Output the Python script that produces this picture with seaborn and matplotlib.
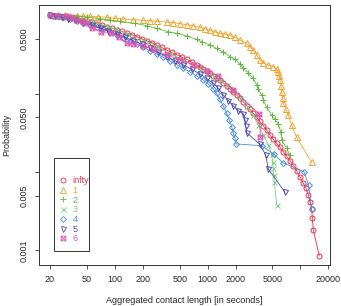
import matplotlib
matplotlib.use("Agg")
import matplotlib.pyplot as plt
import seaborn as sns
from matplotlib.path import Path
from matplotlib.lines import Line2D
from matplotlib.patches import Rectangle

# CCDF of aggregated contact length, one curve per series
len_infty = [20, 21.7, 23.6, 25.6, 27.8, 30.2, 34.2, 38.8, 43.9, 49.7, 56.3, 63.7, 72.1, 81.6, 92.4,
             104.6, 118.4, 134.1, 151.9, 171.8, 194.6, 220.2, 249.3, 282.2, 319.6, 361.7, 409.7, 463.6,
             525.2, 594.2, 673, 761.6, 827, 899, 976, 1060, 1152, 1251, 1359, 1476, 1604, 1742, 1892,
             2055, 2233, 2425, 2634, 2862, 3109, 3377, 3668, 3985, 4328, 4701, 5107, 5547, 6026, 6545,
             7110, 7723, 8389, 9113, 9899, 10752, 11500, 12180, 12687, 13240, 13460, 13782, 16010]
prob_infty = [1.0, 0.995, 0.99, 0.983, 0.964, 0.945, 0.927, 0.900, 0.874, 0.849, 0.816, 0.784, 0.754,
              0.718, 0.691, 0.658, 0.627, 0.597, 0.568, 0.536, 0.505, 0.476, 0.449, 0.419, 0.391, 0.362,
              0.338, 0.315, 0.294, 0.275, 0.254, 0.235, 0.222, 0.207, 0.195, 0.182, 0.170, 0.159, 0.148,
              0.137, 0.1256, 0.116, 0.106, 0.0964, 0.0874, 0.0785, 0.0705, 0.0632, 0.0562, 0.050, 0.0444,
              0.0391, 0.0344, 0.0297, 0.0262, 0.0233, 0.0207, 0.0182, 0.0160, 0.0140, 0.0121, 0.0104,
              0.00874, 0.00718, 0.0062, 0.0051, 0.00419, 0.00335, 0.00257, 0.00182, 0.00085]

len_1 = [29.0, 32.8, 38.8, 45.7, 54.0, 66.4, 81.6, 100.4, 123.4, 158.2, 202.7, 239.2, 282.2, 361.7, 426.8,
         503.6, 594.2, 701.1, 827.3, 937, 1060, 1201, 1359, 1540, 1742, 1973, 2233, 2634, 2862, 3109,
         3377, 3668, 3985, 4514, 5107, 5547, 5781, 5933, 6026, 6183, 6284, 6444, 6545, 6940, 7413, 8054,
         9113, 13240]
prob_1 = [1.0, 0.995, 0.99, 0.985, 0.98, 0.964, 0.945, 0.918, 0.900, 0.883, 0.866, 0.857, 0.840, 0.824,
          0.808, 0.784, 0.762, 0.733, 0.705, 0.678, 0.645, 0.614, 0.591, 0.579, 0.562, 0.525, 0.486, 0.440,
          0.399, 0.362, 0.312, 0.270, 0.249, 0.233, 0.222, 0.207, 0.191, 0.1685, 0.1498, 0.1256, 0.106,
          0.0891, 0.0755, 0.0632, 0.0536, 0.0399, 0.0278, 0.0133]

len_2 = [24.6, 30.2, 38.8, 49.7, 69.2, 88.7, 113.6, 164.9, 220.2, 282.2, 377.2, 463.6, 594.2, 761.6, 862.9,
         1060, 1251, 1476, 1742, 1973, 2233, 2425, 2748, 3109, 3377, 3523, 3820, 3985, 4328, 4903, 5325,
         5781, 6132, 6284, 7110, 7723]
prob_2 = [1.0, 0.99, 0.983, 0.954, 0.909, 0.874, 0.840, 0.793, 0.740, 0.684, 0.620, 0.591, 0.546, 0.495,
          0.462, 0.419, 0.380, 0.338, 0.2975, 0.275, 0.240, 0.211, 0.186, 0.157, 0.129, 0.1139, 0.0964,
          0.0832, 0.0671, 0.0536, 0.0471, 0.0411, 0.0328, 0.0257, 0.0201, 0.0165]

len_3 = [20, 23.6, 30.2, 42.1, 58.6, 81.6, 100.4, 134.1, 199.5, 282.2, 392.9, 547, 827.3, 1152, 1359,
         1604, 1892, 2233, 2634, 3109, 3523, 3985, 4514, 4903, 5027, 5107, 5192, 5236, 5547]
prob_3 = [1.0, 0.99, 0.954, 0.891, 0.816, 0.733, 0.664, 0.591, 0.486, 0.407, 0.328, 0.270, 0.209, 0.170,
          0.1498, 0.128, 0.1073, 0.0891, 0.0698, 0.0530, 0.0399, 0.0297, 0.0222, 0.0170, 0.0136, 0.0112,
          0.00918, 0.00747, 0.0038]

len_4 = [20, 21.7, 24.6, 27.8, 32.8, 38.8, 45.7, 54, 63.7, 75.2, 88.7, 104.6, 123.4, 145.6, 171.8, 202.7,
         239.2, 282.2, 333, 392.9, 463.6, 547, 645.4, 761.6, 898.6, 1018, 1152, 1251, 1359, 1476, 1604,
         1715, 1817, 1892, 1973, 2023, 3820, 5192, 6444, 10940, 12285, 13240]
prob_4 = [1.0, 0.99, 0.974, 0.945, 0.900, 0.857, 0.808, 0.762, 0.711, 0.664, 0.614, 0.568, 0.520, 0.476,
          0.432, 0.391, 0.355, 0.322, 0.292, 0.262, 0.235, 0.211, 0.1895, 0.1685, 0.1498, 0.1332, 0.116,
          0.1013, 0.0849, 0.0698, 0.0562, 0.0462, 0.0380, 0.0318, 0.027, 0.0229, 0.0217, 0.0169, 0.0132,
          0.0101, 0.00678, 0.00335]

len_5 = [20, 22.6, 26.7, 31.5, 37.2, 45.7, 56.3, 69.2, 85.1, 104.6, 128.7, 158.2, 194.6, 239.2, 294.3,
         361.7, 445.1, 547, 673, 827.3, 976, 1152, 1305, 1476, 1673, 1892, 2144, 2425, 2529, 2572, 2634,
         3668, 4225, 4514, 6826]
prob_5 = [1.0, 0.99, 0.954, 0.909, 0.866, 0.808, 0.747, 0.691, 0.633, 0.579, 0.525, 0.476, 0.427, 0.380,
          0.338, 0.2975, 0.2643, 0.233, 0.205, 0.1787, 0.157, 0.1358, 0.1173, 0.0964, 0.0817, 0.0698,
          0.0608, 0.0552, 0.0462, 0.0388, 0.0318, 0.0226, 0.0165, 0.01094, 0.00552]

len_6 = [20, 24.6, 29.5, 34.2, 37.8, 43.9, 48.5, 57.2, 70.3, 90.2, 110.9, 136.3, 158.2, 202.7, 259.8,
         361.7, 503.6, 701.1, 976, 1305, 1892, 3611, 3700]
prob_6 = [1.0, 0.995, 0.99, 0.945, 0.874, 0.840, 0.793, 0.684, 0.620, 0.602, 0.536, 0.440, 0.432, 0.407,
          0.369, 0.312, 0.270, 0.233, 0.197, 0.1685, 0.1117, 0.0552, 0.0283]

labels = ["infty", "1", "2", "3", "4", "5", "6"]
x_ticks = [20, 50, 100, 200, 500, 1000, 2000, 5000, 10000, 20000]
x_ticklabels = ["20", "50", "100", "200", "500", "1000", "2000", "5000", "", "20000"]
y_ticks = [0.001, 0.005, 0.01, 0.05, 0.1, 0.5]
y_ticklabels = ["0.001", "0.005", "", "0.050", "", "0.500"]

# square with a cross (R pch 7)
box_x = Path([(-1, -1), (1, -1), (1, 1), (-1, 1), (-1, -1), (-1, -1), (1, 1), (-1, 1), (1, -1)],
             [Path.MOVETO, Path.LINETO, Path.LINETO, Path.LINETO, Path.CLOSEPOLY,
              Path.MOVETO, Path.LINETO, Path.MOVETO, Path.LINETO])

CORES = ["#E8324C", "#F2A22E", "#5DBA3E", "#7CCB86", "#4A8ED6", "#4B4BAF", "#DA55AE"]
MARCADORES = ["o", "^", "+", "x", "D", "v", box_x]
TAMANHOS = [3.6, 3.8, 4.2, 3.6, 3.0, 3.6, 3.4]

series = [(len_infty, prob_infty), (len_1, prob_1), (len_2, prob_2), (len_3, prob_3),
          (len_4, prob_4), (len_5, prob_5), (len_6, prob_6)]

sns.set_style("ticks")
plt.rcParams["font.family"] = ["Liberation Sans", "DejaVu Sans"]

fig = plt.figure(figsize=(3.41, 3.06), dpi=100)
ax = fig.add_axes([0.1152, 0.135, 0.8525, 0.8487])

for (xs, ys), cor, mk, ms, lab in zip(series, CORES, MARCADORES, TAMANHOS, labels):
    sns.lineplot(x=xs, y=ys, ax=ax, sort=False, estimator=None, color=cor, linewidth=0.6,
                 marker=mk, markersize=ms, markerfacecolor="none", markeredgecolor=cor,
                 markeredgewidth=0.7, label=lab, legend=False)

ax.set_xscale("log")
ax.set_yscale("log")
ax.set_xlim(15.34, 20850)
ax.set_ylim(0.000657, 1.359)

ax.xaxis.set_minor_locator(matplotlib.ticker.NullLocator())
ax.yaxis.set_minor_locator(matplotlib.ticker.NullLocator())
ax.set_xticks(x_ticks)
ax.set_xticklabels(x_ticklabels)
ax.set_yticks(y_ticks)
ax.set_yticklabels(y_ticklabels, rotation=90, va="center")
ax.tick_params(axis="both", direction="out", length=2.7, width=0.6, color="#333333",
               labelsize=6.5, pad=5)

for sp in ax.spines.values():
    sp.set_linewidth(0.7)
    sp.set_color("#333333")

ax.set_xlabel("Aggregated contact length [in seconds]", fontsize=6.5, labelpad=8.5)
ax.set_ylabel("Probability", fontsize=6.5, labelpad=6)

# legend box (R style, with empty room at top)
ax.add_patch(Rectangle((0.0506, 0.054), 0.1204, 0.3575, transform=ax.transAxes,
                       fill=False, edgecolor="#333333", linewidth=0.7, zorder=5))
handles = [Line2D([0], [0], color=c, linestyle="none", marker=m, markersize=s,
                  markerfacecolor="none", markeredgecolor=c, markeredgewidth=0.6)
           for c, m, s in zip(CORES, MARCADORES, TAMANHOS)]
leg = ax.legend(handles=handles, labels=labels, loc="upper left", bbox_to_anchor=(0.052, 0.362),
                frameon=False, fontsize=6.5, labelcolor=CORES, handlelength=0.8,
                handletextpad=0.6, labelspacing=0.08, borderpad=0.1)

fig.savefig("out.png", dpi=100)
